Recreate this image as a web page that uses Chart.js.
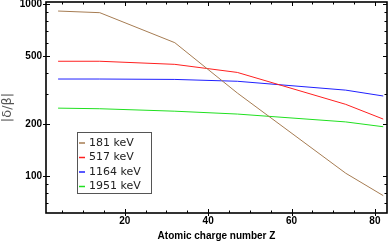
<!DOCTYPE html>
<html>
<head>
<meta charset="utf-8">
<script src="https://cdn.jsdelivr.net/npm/chart.js@4.4.0/dist/chart.umd.min.js"></script>
<style>
  html, body { margin: 0; padding: 0; background: #fff; }
  #wrap { width: 391px; height: 242px; }
</style>
</head>
<body>
<div id="wrap"><canvas id="chart" width="391" height="242"></canvas></div>
<script>
// atomic numbers: Be, Si, Ge, Ag, Ta, Pb
const zValues = [4, 14, 32, 47, 73, 82];
const kev181 = [916, 896, 599, 305, 104, 77];
const kev517 = [467, 467, 448, 402, 262, 215];
const kev1164 = [368, 368, 366, 357, 317, 293];
const kev1951 = [249, 247, 239, 230, 207, 194];

const seriesLabels = ['181 keV', '517 keV', '1164 keV', '1951 keV'];
const seriesColors = ['#a67c52', '#ff2020', '#2020ff', '#20e020'];

const xTicks = [20, 40, 60, 80];
const yTicks = [100, 200, 500, 1000];
const yMinorTicks = [70, 80, 90, 300, 400, 600, 700, 800, 900];

function toPoints(vals) {
    return zValues.map((z, i) => ({ x: z, y: vals[i] }));
}

const frameTicks = {
    id: 'frameTicks',
    afterDatasetsDraw(chart) {
        const ctx = chart.ctx;
        const a = chart.chartArea;
        const xs = chart.scales.x, ys = chart.scales.y;
        ctx.save();
        ctx.strokeStyle = '#000';
        ctx.lineWidth = 1;
        ctx.beginPath();
        // x major and minor
        for (let v = 5; v <= 80; v += 5) {
            const px = Math.round(xs.getPixelForValue(v)) + 0.5;
            const major = xTicks.includes(v);
            const len = major ? 4 : 2.5;
            ctx.moveTo(px, a.bottom + (major ? 3 : 0));
            ctx.lineTo(px, a.bottom - len);
            ctx.moveTo(px, a.top);
            ctx.lineTo(px, a.top + len);
        }
        const allY = yTicks.concat(yMinorTicks);
        allY.forEach(v => {
            const py = Math.round(ys.getPixelForValue(v)) + 0.5;
            const major = yTicks.includes(v);
            const len = major ? 4 : 2.5;
            ctx.moveTo(a.left - (major ? 3 : 0), py);
            ctx.lineTo(a.left + len, py);
            ctx.moveTo(a.right, py);
            ctx.lineTo(a.right - len, py);
        });
        ctx.stroke();
        ctx.lineWidth = 1.6;
        ctx.strokeRect(a.left, a.top, a.right - a.left, a.bottom - a.top);

        // legend box
        const bx = 77, by = 132.5, bw = 74, bh = 61;
        ctx.fillStyle = '#fff';
        ctx.fillRect(bx, by, bw, bh);
        ctx.lineWidth = 1;
        ctx.strokeStyle = '#555';
        ctx.strokeRect(bx + 0.5, by, bw, bh);
        ctx.font = '11px "DejaVu Sans"';
        ctx.textBaseline = 'middle';
        ctx.textAlign = 'left';
        chart.data.datasets.forEach((ds, i) => {
            const ry = by + 10.5 + i * 14.5;
            ctx.strokeStyle = ds.borderColor;
            ctx.lineWidth = 1.5;
            ctx.beginPath();
            ctx.moveTo(79, ry);
            ctx.lineTo(85, ry);
            ctx.stroke();
            ctx.fillStyle = '#222';
            ctx.fillText(ds.label, 89, ry);
        });
        ctx.restore();
    }
};

new Chart(document.getElementById('chart'), {
    type: 'line',
    data: {
        datasets: [kev181, kev517, kev1164, kev1951].map((vals, i) => ({
            label: seriesLabels[i],
            data: toPoints(vals),
            borderColor: seriesColors[i],
            backgroundColor: seriesColors[i],
            borderWidth: 1,
            pointRadius: 0,
            tension: 0,
            fill: false
        }))
    },
    options: {
        responsive: false,
        animation: false,
        layout: { padding: { left: 0, top: 2, right: 4, bottom: 0 } },
        plugins: {
            legend: { display: false },
            tooltip: { enabled: false }
        },
        scales: {
            x: {
                type: 'linear',
                min: 1.1,
                max: 82.9,
                grid: { display: false, drawTicks: false },
                border: { display: false },
                afterBuildTicks: s => { s.ticks = xTicks.map(v => ({ value: v })); },
                afterFit: s => { s.height = 29; s.paddingLeft = 0; s.paddingRight = 0; },
                ticks: {
                    padding: 2,
                    color: '#000',
                    font: { family: 'Liberation Sans', size: 10, weight: 'bold' },
                    maxRotation: 0,
                    callback: v => String(v)
                },
                title: {
                    display: true,
                    text: 'Atomic charge number Z',
                    color: '#000',
                    padding: { top: 0, bottom: 0 },
                    font: { family: 'Liberation Sans', size: 10, weight: 'bold' }
                }
            },
            y: {
                type: 'logarithmic',
                min: 61,
                max: 1034,
                grid: { display: false, drawTicks: false },
                border: { display: false },
                afterBuildTicks: s => { s.ticks = yTicks.map(v => ({ value: v })); },
                afterFit: s => { s.width = 46; s.paddingTop = 0; s.paddingBottom = 0; },
                ticks: {
                    padding: 4,
                    color: '#000',
                    font: { family: 'Liberation Sans', size: 10, weight: 'bold' },
                    callback: v => String(v)
                },
                title: {
                    display: true,
                    text: '|δ/β|',
                    color: '#555',
                    padding: { top: 0, bottom: 0 },
                    font: { family: 'DejaVu Sans', size: 13 }
                }
            }
        }
    },
    plugins: [frameTicks]
});
</script>
</body>
</html>
